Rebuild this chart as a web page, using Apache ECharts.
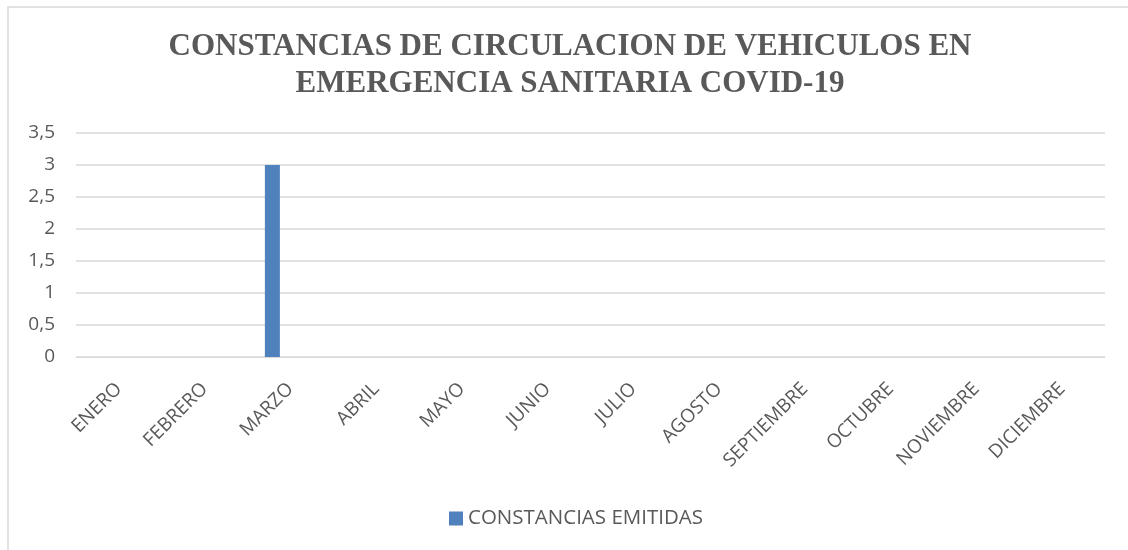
<!DOCTYPE html>
<html>
<head>
<meta charset="utf-8">
<script src="https://cdn.jsdelivr.net/npm/echarts@6/dist/echarts.min.js"></script>
<style>
html,body{margin:0;padding:0;background:#fff;}
#chart{width:1128px;height:550px;}
</style>
</head>
<body>
<div id="chart"></div>
<script>
const titleText = 'CONSTANCIAS DE CIRCULACION DE VEHICULOS EN\nEMERGENCIA SANITARIA COVID-19';
const months = ['ENERO','FEBRERO','MARZO','ABRIL','MAYO','JUNIO','JULIO','AGOSTO','SEPTIEMBRE','OCTUBRE','NOVIEMBRE','DICIEMBRE'];
const seriesName = 'CONSTANCIAS EMITIDAS';
const constancias = [0,0,3,0,0,0,0,0,0,0,0,0];
const emptySlot = [null,null,null,null,null,null,null,null,null,null,null,null];
const yTicks = {min:0, max:3.5, interval:0.5};

const textColor = '#595959';
const gridColor = '#d9d9d9';
const font = '"Open Sans", sans-serif';

const chart = echarts.init(document.getElementById('chart'), null, {renderer:'canvas'});
chart.setOption({
  animation:false,
  backgroundColor:'#ffffff',
  graphic:[{
    type:'rect', shape:{x:8, y:7, width:1200, height:600},
    style:{fill:'none', stroke:gridColor, lineWidth:1.5}, silent:true, z:-10
  }],
  title:{
    text:titleText,
    left:570,
    textAlign:'center',
    top:28,
    padding:0,
    textStyle:{fontFamily:'"Liberation Serif", serif', fontWeight:'bold', fontSize:31, lineHeight:37, color:textColor}
  },
  legend:{
    data:[seriesName],
    left:449, top:508, padding:0,
    itemWidth:14, itemHeight:14, icon:'rect',
    textStyle:{fontFamily:font, fontSize:20.5, color:textColor}
  },
  grid:{left:76, right:23, top:133, bottom:193, containLabel:false},
  xAxis:{
    type:'category', data:months,
    axisLine:{lineStyle:{color:gridColor, width:1}},
    axisTick:{show:false},
    axisLabel:{rotate:45, margin:29, interval:0, fontFamily:font, fontSize:19, color:textColor}
  },
  yAxis:{
    type:'value', min:yTicks.min, max:yTicks.max, interval:yTicks.interval,
    axisLine:{show:false}, axisTick:{show:false},
    splitLine:{lineStyle:{color:gridColor, width:1.5}},
    axisLabel:{margin:21, fontFamily:font, fontSize:19, color:textColor,
      formatter:v => String(v).replace('.', ',')}
  },
  series:[
    {name:seriesName, type:'bar', data:constancias, barWidth:15, barGap:'140%', itemStyle:{color:'#4f81bd'}},
    {name:'', type:'bar', data:emptySlot, barWidth:15, itemStyle:{color:'#c0504d'}}
  ]
});
</script>
</body>
</html>
